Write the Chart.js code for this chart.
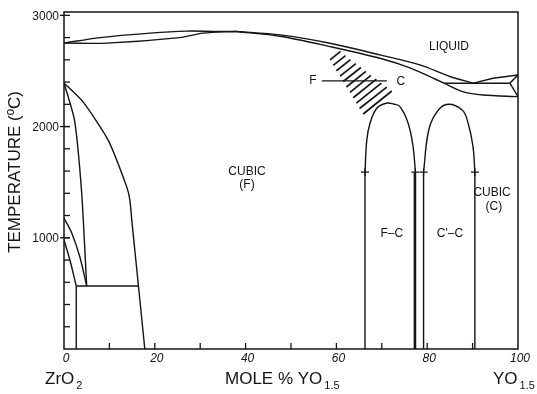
<!DOCTYPE html>
<html lang="en">
<head>
<meta charset="UTF-8">
<title>ZrO2 - YO1.5 phase diagram</title>
<script src="https://cdn.jsdelivr.net/npm/chart.js"></script>
<style>
  body { margin: 0; background: #fff; }
  canvas { display: block; }
</style>
</head>
<body>
<canvas id="phaseChart" width="537" height="394"></canvas>
<script>
// phase boundaries, [mole % YO1.5, temperature degC]
const liquidusLeft   = [[0, 2750], [8, 2800], [19, 2840], [27, 2858], [33, 2856], [38, 2855]];
const solidusLeft    = [[0, 2750], [9.4, 2750], [25.5, 2800], [30.6, 2840], [38, 2855]];
const liquidusRight  = [[38, 2855], [47.6, 2824], [58.6, 2749], [69.6, 2644], [78.4, 2554], [85, 2450], [90.2, 2390]];
const liquidusEnd    = [[90.2, 2390], [94.5, 2434], [100, 2464]];
const solidusRight   = [[38, 2855], [47.6, 2812], [58.6, 2719], [69.6, 2614], [76.2, 2527], [83.7, 2390], [88, 2312], [92.3, 2284], [100, 2269]];
const eutecticLine   = [[83.7, 2390], [98.2, 2390]];
const hexWedge       = [[100, 2464], [98.2, 2390], [100, 2269]];

const tetragonalA    = [[0, 2392], [2.3, 2060], [3.9, 1400], [5.0, 566]];
const cubicSolvus    = [[0, 2392], [4.2, 2222], [9.7, 1880], [13.8, 1460], [14.5, 1340], [15.0, 1130], [16.4, 566], [17.8, 0]];
const monoclinicC    = [[0, 1178], [1.7, 1043], [3.5, 827], [5.0, 566]];
const monoclinicD    = [[0, 980], [1.3, 800], [2.7, 566]];
const eutectoidLine  = [[2.7, 566], [16.4, 566]];
const leftVertical   = [[2.7, 566], [2.7, 0]];

const domeFC  = [[66.3, 1590], [66.7, 1880], [67.4, 2030], [68.9, 2165], [70.9, 2210], [72.6, 2203], [74.0, 2179], [75.8, 2030], [76.9, 1815], [77.4, 1590]];
const domeCC  = [[79.2, 1590], [80.2, 1942], [81.7, 2104], [84.2, 2198], [87.7, 2149], [89.0, 2032], [90.1, 1817], [90.5, 1590]];
const verticals = [[66.3, 1590, 0], [77.3, 1590, 0], [79.2, 1590, 0], [90.5, 1590, 0]];
const crossMarks = [[66.3, 1590], [77.4, 1590], [79.2, 1590], [90.5, 1590]];

const fcTieLine = [[56.8, 2410], [71.1, 2410]];
// hatch strokes of the F + C region: [x1, T1, x2, T2]
const hatchStrokes = [
  [58.6, 2599, 60.9, 2676], [59.3, 2550, 62.0, 2638], [60.0, 2502, 63.1, 2602],
  [60.8, 2453, 64.3, 2566], [61.5, 2405, 65.4, 2531], [62.2, 2356, 66.5, 2496],
  [63.0, 2308, 67.6, 2461], [63.7, 2259, 68.8, 2426], [64.4, 2210, 69.9, 2390],
  [65.1, 2162, 71.1, 2355], [65.9, 2113, 72.2, 2320]
];

const yTickLabels = [1000, 2000, 3000];
const xTickLabels = [0, 20, 40, 60, 80, 100];

// region labels [text, x, T]
const regionLabels = [
  ["LIQUID", 84.8, 2716],
  ["CUBIC", 40.3, 1592], ["(F)", 40.3, 1475],
  ["F\u2013C", 72.2, 1034], ["C'\u2013C", 85.0, 1034],
  ["CUBIC", 94.3, 1403], ["(C)", 94.7, 1277],
  ["F", 54.8, 2410], ["C", 74.2, 2401]
];

const ink = "#141414";

function curve(points, width, tension) {
  return {
    data: points.map(p => ({ x: p[0], y: p[1] })),
    showLine: true,
    pointRadius: 0,
    borderColor: ink,
    borderWidth: width || 1.4,
    tension: tension || 0,
    fill: false
  };
}

let datasets = [
  curve(liquidusLeft, 1.4, 0.3),
  curve(solidusLeft, 1.4, 0.3),
  curve(liquidusRight, 1.4, 0.3),
  curve(liquidusEnd),
  curve(solidusRight, 1.4, 0.3),
  curve(eutecticLine),
  curve(hexWedge),
  curve(tetragonalA, 1.4, 0.2),
  curve(cubicSolvus, 1.4, 0.2),
  curve(monoclinicC, 1.4, 0.3),
  curve(monoclinicD, 1.4, 0.3),
  curve(eutectoidLine),
  curve(leftVertical),
  curve(domeFC, 1.4, 0.4),
  curve(domeCC, 1.4, 0.4),
  curve(fcTieLine, 1.2)
];

verticals.forEach((v, i) => {
  datasets.push(curve([[v[0], v[1]], [v[0], v[2]]], i === 1 ? 2.6 : 1.4));
});

hatchStrokes.forEach(s => {
  datasets.push(curve([[s[0], s[1]], [s[2], s[3]]], 1.7));
});

datasets.push({
  data: crossMarks.map(p => ({ x: p[0], y: p[1] })),
  showLine: false,
  pointStyle: "cross",
  pointRadius: 4,
  borderColor: ink,
  borderWidth: 1.2
});

// frame, ticks and texts
const framePlugin = {
  id: "frame",
  afterDraw(chart) {
    const c = chart.ctx;
    const area = chart.chartArea;
    const xs = chart.scales.x;
    const ys = chart.scales.y;
    c.save();
    c.strokeStyle = ink;
    c.fillStyle = ink;
    c.lineWidth = 1.5;
    c.strokeRect(area.left, area.top, area.right - area.left, area.bottom - area.top);

    // y ticks every 200, pointing inward
    c.lineWidth = 1.3;
    for (let t = 200; t < 3000; t += 200) {
      const py = ys.getPixelForValue(t);
      c.beginPath();
      c.moveTo(area.left, py);
      c.lineTo(area.left + 6, py);
      c.stroke();
    }
    c.font = '12px "Liberation Sans", Arial, sans-serif';
    c.textAlign = "right";
    c.textBaseline = "middle";
    yTickLabels.forEach(t => {
      const py = ys.getPixelForValue(t);
      c.beginPath();
      c.moveTo(area.left - 4, py);
      c.lineTo(area.left + 6, py);
      c.stroke();
      c.fillText(String(t), area.left - 5, py + 1);
    });

    // x ticks every 10, pointing up
    for (let v = 10; v < 100; v += 10) {
      const px = xs.getPixelForValue(v);
      c.beginPath();
      c.moveTo(px, area.bottom);
      c.lineTo(px, area.bottom - 6);
      c.stroke();
    }
    c.font = 'italic 12px "Liberation Sans", Arial, sans-serif';
    c.textAlign = "center";
    c.textBaseline = "top";
    xTickLabels.forEach(v => {
      c.fillText(String(v), xs.getPixelForValue(v) + 2, area.bottom + 4);
    });

    // region labels
    c.font = '12px "Liberation Sans", Arial, sans-serif';
    c.textBaseline = "middle";
    regionLabels.forEach(l => {
      c.fillText(l[0], xs.getPixelForValue(l[1]), ys.getPixelForValue(l[2]));
    });

    // axis titles
    const big = '17px "Liberation Sans", Arial, sans-serif';
    const sub = '11px "Liberation Sans", Arial, sans-serif';
    const base = area.bottom + 35;
    function withSub(x, main, low) {
      c.font = big;
      c.textAlign = "left";
      c.textBaseline = "alphabetic";
      c.fillText(main, x, base);
      const w = c.measureText(main).width;
      c.font = sub;
      c.fillText(low, x + w + 2, base + 5);
    }
    withSub(45, "ZrO", "2");
    withSub(225, "MOLE % YO", "1.5");
    withSub(493, "YO", "1.5");

    c.save();
    c.translate(15, 172);
    c.rotate(-Math.PI / 2);
    c.font = big;
    c.textAlign = "center";
    c.textBaseline = "middle";
    c.fillText("TEMPERATURE (\u00BAC)", 0, 0);
    c.restore();

    c.restore();
  }
};

new Chart(document.getElementById("phaseChart").getContext("2d"), {
  type: "scatter",
  data: { datasets: datasets },
  options: {
    responsive: false,
    animation: false,
    layout: { padding: { left: 64, right: 19, top: 12, bottom: 45 } },
    plugins: { legend: { display: false }, tooltip: { enabled: false } },
    scales: {
      x: { type: "linear", min: 0, max: 100, display: false },
      y: { type: "linear", min: 0, max: 3030, display: false }
    }
  },
  plugins: [framePlugin]
});
</script>
</body>
</html>
